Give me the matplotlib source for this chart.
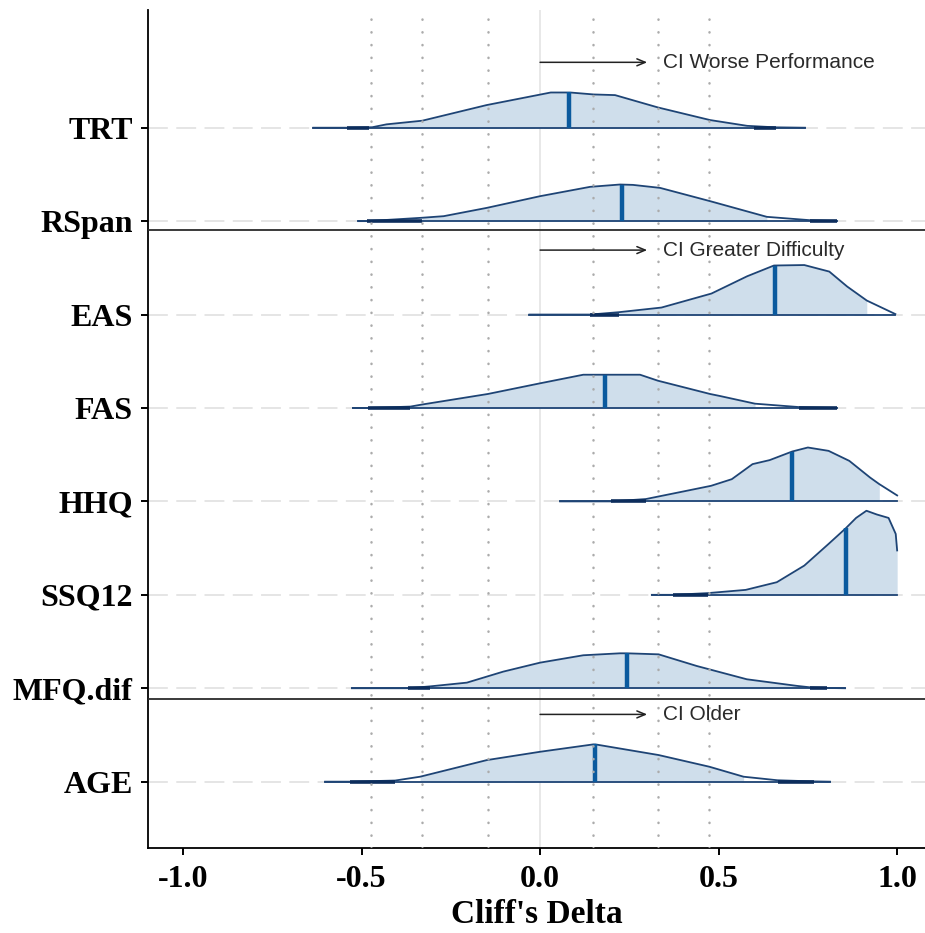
import numpy as np
import matplotlib
matplotlib.use('Agg')
import matplotlib.pyplot as plt

# rows from top to bottom and where they sit on the y axis
rows = ['TRT', 'RSpan', 'EAS', 'FAS', 'HHQ', 'SSQ12', 'MFQ.dif', 'AGE']
row_pos = [8, 7, 6, 5, 4, 3, 2, 1]

# density outlines (x = Cliff's delta, h = height in row units)
trt_x = [-0.635, -0.54, -0.47, -0.43, -0.33, -0.15, 0.03, 0.084, 0.15, 0.21, 0.33, 0.476, 0.58, 0.66, 0.742]
trt_h = [0, 0, 0.005, 0.036, 0.075, 0.242, 0.377, 0.377, 0.356, 0.349, 0.217, 0.082, 0.02, 0.004, 0]

rspan_x = [-0.509, -0.485, -0.331, -0.27, -0.149, 0.0, 0.14, 0.224, 0.26, 0.336, 0.476, 0.635, 0.756, 0.831]
rspan_h = [0, 0, 0.036, 0.053, 0.142, 0.267, 0.367, 0.392, 0.388, 0.356, 0.214, 0.046, 0.01, 0]

eas_x = [-0.03, 0.14, 0.22, 0.34, 0.48, 0.58, 0.655, 0.74, 0.81, 0.86, 0.915, 0.995]
eas_h = [0, 0, 0.025, 0.075, 0.225, 0.41, 0.525, 0.53, 0.46, 0.3, 0.15, 0.005]

fas_x = [-0.524, -0.482, -0.363, -0.332, -0.146, 0.0, 0.121, 0.18, 0.28, 0.33, 0.476, 0.504, 0.602, 0.724, 0.831]
fas_h = [0, 0, 0.015, 0.036, 0.15, 0.264, 0.356, 0.356, 0.356, 0.292, 0.15, 0.128, 0.046, 0.01, 0]

hhq_x = [0.056, 0.2, 0.296, 0.402, 0.479, 0.537, 0.595, 0.643, 0.706, 0.75, 0.808, 0.866, 0.924, 0.95, 1.0]
hhq_h = [0, 0, 0.025, 0.107, 0.167, 0.238, 0.399, 0.442, 0.534, 0.577, 0.541, 0.434, 0.256, 0.185, 0.064]

ssq_x = [0.313, 0.373, 0.469, 0.576, 0.663, 0.74, 0.808, 0.856, 0.885, 0.914, 0.943, 0.976, 0.996, 1.0]
ssq_h = [0, 0, 0.018, 0.053, 0.135, 0.313, 0.545, 0.712, 0.823, 0.9, 0.86, 0.823, 0.652, 0.475]

mfq_x = [-0.527, -0.369, -0.308, -0.205, -0.103, 0.0, 0.121, 0.224, 0.243, 0.332, 0.439, 0.579, 0.72, 0.756, 0.803, 0.854]
mfq_h = [0, 0, 0.02, 0.06, 0.178, 0.274, 0.353, 0.374, 0.374, 0.363, 0.238, 0.096, 0.025, 0.01, 0.003, 0]

age_x = [-0.602, -0.532, -0.406, -0.336, -0.149, 0.0, 0.149, 0.155, 0.332, 0.474, 0.57, 0.665, 0.766, 0.812]
age_h = [0, 0, 0.012, 0.053, 0.231, 0.32, 0.399, 0.399, 0.285, 0.16, 0.053, 0.015, 0.003, 0]

dens_x = [trt_x, rspan_x, eas_x, fas_x, hhq_x, ssq_x, mfq_x, age_x]
dens_h = [trt_h, rspan_h, eas_h, fas_h, hhq_h, ssq_h, mfq_h, age_h]

# medians and their heights
medians = [0.081, 0.229, 0.658, 0.182, 0.706, 0.856, 0.243, 0.155]
median_h = [0.377, 0.392, 0.525, 0.356, 0.534, 0.712, 0.374, 0.399]

# shaded interval
fill_lo = [-0.47, -0.331, 0.22, -0.363, 0.296, 0.469, -0.308, -0.336]
fill_hi = [0.58, 0.635, 0.915, 0.602, 0.95, 1.0, 0.72, 0.57]

# dark tail segments on the baseline
tail_left = [(-0.54, -0.48), (-0.485, -0.331), (0.14, 0.22), (-0.482, -0.363),
             (0.2, 0.296), (0.373, 0.469), (-0.369, -0.308), (-0.532, -0.406)]
tail_right = [(0.60, 0.66), (0.756, 0.831), None, (0.724, 0.831),
              None, None, (0.756, 0.803), (0.665, 0.766)]

ref_lines = [-0.474, -0.33, -0.147, 0.147, 0.33, 0.474]
x_ticks = [-1.0, -0.5, 0.0, 0.5, 1.0]
x_ticklabels = ['-1.0', '-0.5', '0.0', '0.5', '1.0']

# group separators and the direction notes
sep_y = [6.91, 1.89]
notes = ['CI Worse Performance', 'CI Greater Difficulty', 'CI Older']
note_y = [8.70, 6.69, 1.72]

fill_col = '#cfdeeb'
line_col = '#1e4475'
dark_col = '#0c2d5c'
med_col = '#0b5a9e'
serif = 'Liberation Serif'
sans = 'Liberation Sans'

fig = plt.figure(figsize=(9.25, 9.33), dpi=100)
ax = fig.add_axes([148 / 925, 85 / 933, 1 - 148 / 925, 838 / 933])

# grid
for p in row_pos:
    ax.axhline(p, color='#dedede', lw=1.1, ls=(0, (13, 5.5)), zorder=0)
ax.axvline(0, color='#e4e4e4', lw=1.2, zorder=0)

for i in range(len(rows)):
    base = row_pos[i]
    x = np.array(dens_x[i])
    h = np.array(dens_h[i])
    z = 2 + i * 0.1
    mask = (x >= fill_lo[i] - 1e-9) & (x <= fill_hi[i] + 1e-9)
    ax.fill_between(x, base, base + h, where=mask, color=fill_col, lw=0, zorder=z)
    ax.plot([x[0], x[-1]], [base, base], color=line_col, lw=1.3, zorder=z + 0.02)
    ax.plot(x, base + h, color=line_col, lw=1.3, zorder=z + 0.02)
    for seg in (tail_left[i], tail_right[i]):
        if seg is not None:
            ax.plot(seg, [base, base], color=dark_col, lw=2.6, solid_capstyle='butt', zorder=z + 0.03)
    ax.plot([medians[i], medians[i]], [base, base + median_h[i]], color=med_col, lw=3.2,
            solid_capstyle='butt', zorder=z + 0.04)

# effect size thresholds
for v in ref_lines:
    ax.axvline(v, color='#ababab', lw=1.8, ls=(0, (0.1, 5)), dash_capstyle='round', zorder=2.9)

for y in sep_y:
    ax.axhline(y, color='#2b2b2b', lw=1.3, zorder=10)

for t, y in zip(notes, note_y):
    ax.annotate('', xy=(0.30, y), xytext=(0.0, y),
                arrowprops=dict(arrowstyle='->,head_length=0.6,head_width=0.25',
                                color='#222222', lw=1.1, shrinkA=0, shrinkB=0), zorder=11)
    ax.text(0.345, y, t, fontsize=15, family=sans, color='#2a2a2a', va='center', ha='left', zorder=11)

ax.set_xlim(-1.098, 1.078)
ax.set_ylim(0.29, 9.26)
ax.set_yticks(row_pos)
ax.set_yticklabels(rows, fontsize=23, family=serif, fontweight='bold')
ax.set_xticks(x_ticks)
ax.set_xticklabels(x_ticklabels, fontsize=23, family=serif, fontweight='bold')
ax.set_xlabel("Cliff's Delta", fontsize=24, family=serif, fontweight='bold', labelpad=4)
ax.tick_params(axis='y', length=5, width=1.4, pad=6, colors='black')
ax.tick_params(axis='x', length=5, width=1.4, pad=7, colors='black')
for s in ['top', 'right']:
    ax.spines[s].set_visible(False)
for s in ['left', 'bottom']:
    ax.spines[s].set_linewidth(1.3)
    ax.spines[s].set_color('black')

fig.savefig('out.png', dpi=100)
